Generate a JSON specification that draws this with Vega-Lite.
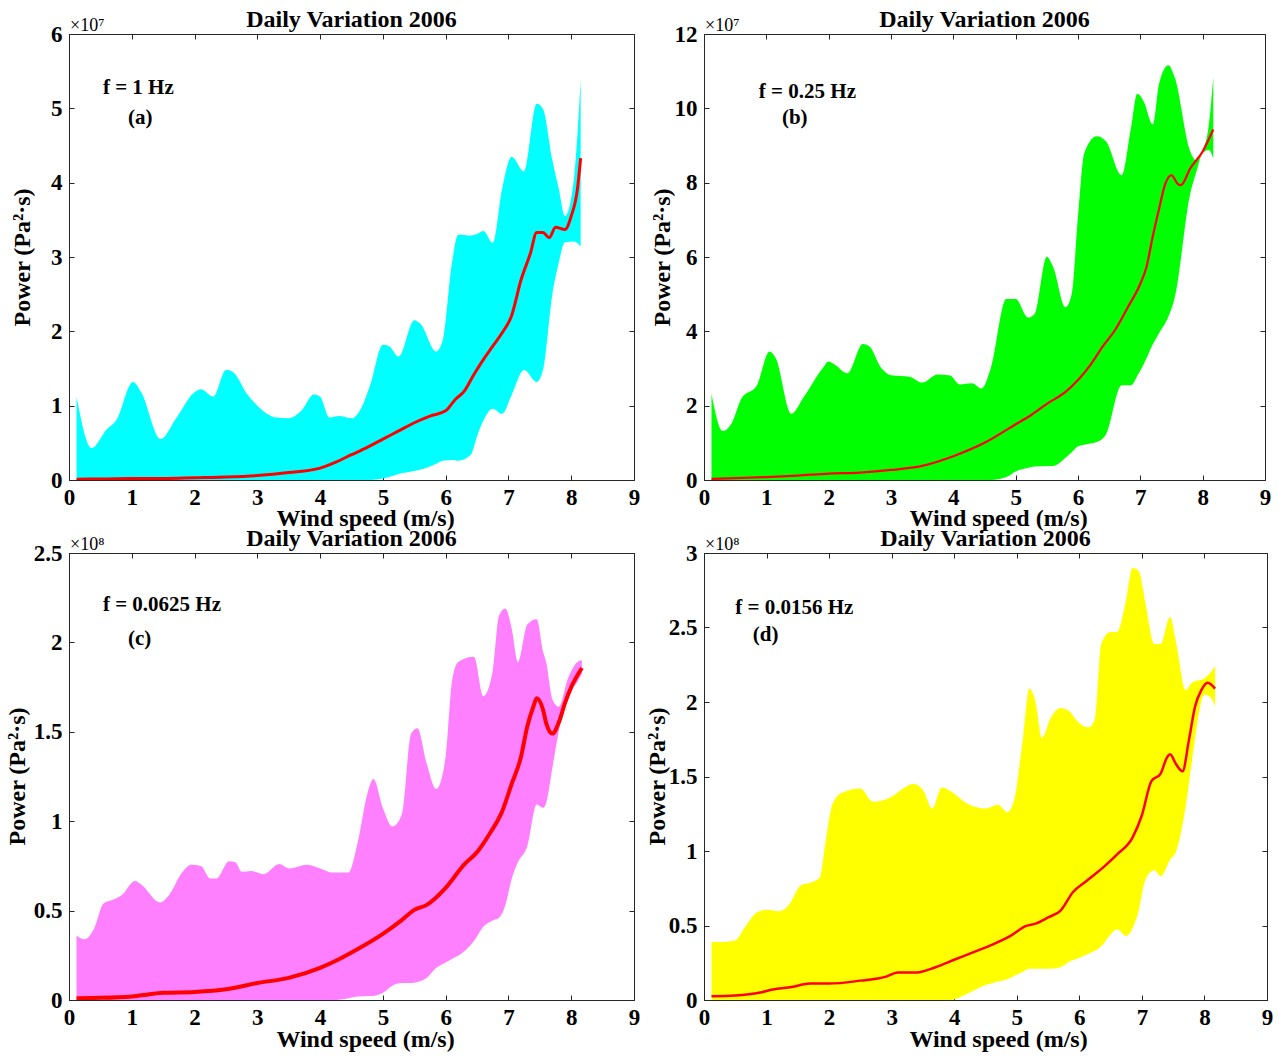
{
  "$schema": "https://vega.github.io/schema/vega-lite/v6.json",
  "background": "white",
  "padding": {"left": 4, "top": 7, "right": 10, "bottom": 5},
  "config": {
    "font": "Liberation Serif",
    "view": {"stroke": "#262626", "strokeWidth": 1},
    "axis": {
      "labelFont": "Liberation Serif", "labelFontWeight": "bold", "labelFontSize": 23, "labelColor": "black",
      "titleFont": "Liberation Serif", "titleFontWeight": "bold", "titleFontSize": 24, "titleColor": "black",
      "domainColor": "#262626", "tickColor": "#262626", "tickSize": -5, "grid": false, "labelFlush": false, "labelOverlap": false, "format": "~g"
    },
    "axisX": {"titleY": 45, "titleBaseline": "alphabetic", "titleX": 296, "labelPadding": 11},
    "axisY": {"titleY": 223, "titleBaseline": "middle", "titleAngle": -90, "labelPadding": 12},
    "title": {"font": "Liberation Serif", "fontWeight": "bold", "fontSize": 24, "color": "black", "offset": -15}
  },
  "bounds": "flush",
  "columns": 2,
  "spacing": {"row": 73, "column": 70},
  "datasets": {
    "a_band": [
      {"x":0.12,"lo":0,"hi":1.12},{"x":0.36,"lo":0,"hi":0.43},{"x":0.6,"lo":0,"hi":0.68},{"x":0.75,"lo":0,"hi":0.8},
      {"x":1.02,"lo":0,"hi":1.32},{"x":1.15,"lo":0,"hi":1.18},{"x":1.46,"lo":0,"hi":0.55},{"x":1.7,"lo":0,"hi":0.82},
      {"x":2.0,"lo":0,"hi":1.18},{"x":2.1,"lo":0,"hi":1.22},{"x":2.3,"lo":0,"hi":1.12},{"x":2.5,"lo":0,"hi":1.48},
      {"x":2.6,"lo":0,"hi":1.46},{"x":2.85,"lo":0,"hi":1.14},{"x":3.0,"lo":0,"hi":1.0},{"x":3.3,"lo":0,"hi":0.84},
      {"x":3.5,"lo":0,"hi":0.83},{"x":3.7,"lo":0,"hi":0.93},{"x":3.9,"lo":0,"hi":1.15},{"x":4.0,"lo":0,"hi":1.12},
      {"x":4.15,"lo":0,"hi":0.84},{"x":4.3,"lo":0,"hi":0.86},{"x":4.5,"lo":0,"hi":0.83},{"x":4.65,"lo":0,"hi":0.96},
      {"x":4.8,"lo":0,"hi":1.28},{"x":5.0,"lo":0.02,"hi":1.82},{"x":5.1,"lo":0.04,"hi":1.8},{"x":5.25,"lo":0.08,"hi":1.66},
      {"x":5.5,"lo":0.12,"hi":2.15},{"x":5.6,"lo":0.14,"hi":2.1},{"x":5.85,"lo":0.22,"hi":1.73},{"x":5.95,"lo":0.26,"hi":1.87},
      {"x":6.1,"lo":0.27,"hi":2.92},{"x":6.2,"lo":0.26,"hi":3.3},{"x":6.4,"lo":0.34,"hi":3.29},{"x":6.5,"lo":0.59,"hi":3.31},
      {"x":6.6,"lo":0.8,"hi":3.35},{"x":6.75,"lo":0.96,"hi":3.19},{"x":6.9,"lo":0.89,"hi":3.92},{"x":7.05,"lo":1.14,"hi":4.35},
      {"x":7.25,"lo":1.48,"hi":4.15},{"x":7.45,"lo":1.32,"hi":5.06},{"x":7.55,"lo":1.48,"hi":4.99},{"x":7.7,"lo":2.5,"hi":4.3},
      {"x":7.8,"lo":2.92,"hi":3.92},{"x":7.9,"lo":3.2,"hi":3.55},{"x":8.05,"lo":3.21,"hi":4.1},{"x":8.15,"lo":3.14,"hi":5.38}
    ],
    "a_mean": [
      {"x":0.12,"m":0.01},{"x":0.6,"m":0.015},{"x":1.0,"m":0.02},{"x":1.5,"m":0.02},{"x":2.0,"m":0.03},{"x":2.5,"m":0.04},
      {"x":3.0,"m":0.06},{"x":3.5,"m":0.1},{"x":4.0,"m":0.16},{"x":4.25,"m":0.24},{"x":4.5,"m":0.34},{"x":4.75,"m":0.44},
      {"x":5.0,"m":0.55},{"x":5.25,"m":0.66},{"x":5.5,"m":0.77},{"x":5.75,"m":0.86},{"x":6.0,"m":0.93},{"x":6.15,"m":1.08},
      {"x":6.3,"m":1.2},{"x":6.45,"m":1.42},{"x":6.6,"m":1.62},{"x":6.75,"m":1.8},{"x":6.9,"m":1.98},{"x":7.05,"m":2.21},
      {"x":7.2,"m":2.69},{"x":7.35,"m":3.05},{"x":7.45,"m":3.33},{"x":7.55,"m":3.33},{"x":7.65,"m":3.26},{"x":7.75,"m":3.4},
      {"x":7.9,"m":3.37},{"x":8.0,"m":3.55},{"x":8.1,"m":3.92},{"x":8.15,"m":4.33}
    ],
    "b_band": [
      {"x":0.12,"lo":0,"hi":2.32},{"x":0.3,"lo":0,"hi":1.32},{"x":0.45,"lo":0,"hi":1.55},{"x":0.6,"lo":0,"hi":2.19},
      {"x":0.85,"lo":0,"hi":2.55},{"x":1.05,"lo":0,"hi":3.46},{"x":1.15,"lo":0,"hi":3.28},{"x":1.4,"lo":0,"hi":1.78},
      {"x":1.6,"lo":0,"hi":2.23},{"x":1.9,"lo":0,"hi":3.0},{"x":2.0,"lo":0,"hi":3.19},{"x":2.1,"lo":0,"hi":3.1},
      {"x":2.3,"lo":0,"hi":2.87},{"x":2.55,"lo":0,"hi":3.66},{"x":2.65,"lo":0,"hi":3.6},{"x":2.85,"lo":0,"hi":3.0},
      {"x":3.0,"lo":0,"hi":2.82},{"x":3.3,"lo":0,"hi":2.78},{"x":3.5,"lo":0,"hi":2.62},{"x":3.75,"lo":0,"hi":2.84},
      {"x":3.95,"lo":0,"hi":2.81},{"x":4.1,"lo":0,"hi":2.57},{"x":4.3,"lo":0,"hi":2.6},{"x":4.45,"lo":0,"hi":2.46},
      {"x":4.6,"lo":0,"hi":3.0},{"x":4.85,"lo":0.08,"hi":4.87},{"x":5.0,"lo":0.23,"hi":4.87},{"x":5.2,"lo":0.33,"hi":4.37},
      {"x":5.3,"lo":0.36,"hi":4.46},{"x":5.5,"lo":0.38,"hi":6.01},{"x":5.6,"lo":0.38,"hi":5.74},{"x":5.8,"lo":0.6,"hi":4.65},
      {"x":5.9,"lo":0.75,"hi":5.01},{"x":6.0,"lo":0.91,"hi":7.1},{"x":6.1,"lo":0.95,"hi":8.79},{"x":6.3,"lo":1.02,"hi":9.25},
      {"x":6.45,"lo":1.23,"hi":9.11},{"x":6.7,"lo":2.55,"hi":8.2},{"x":6.85,"lo":2.55,"hi":9.48},{"x":6.95,"lo":2.8,"hi":10.39},
      {"x":7.05,"lo":3.1,"hi":10.2},{"x":7.2,"lo":3.65,"hi":9.57},{"x":7.3,"lo":3.95,"hi":10.66},{"x":7.45,"lo":4.4,"hi":11.16},
      {"x":7.55,"lo":4.9,"hi":10.84},{"x":7.8,"lo":7.7,"hi":8.84},{"x":7.9,"lo":8.3,"hi":8.6},{"x":8.0,"lo":8.8,"hi":8.85},
      {"x":8.1,"lo":8.88,"hi":9.57},{"x":8.17,"lo":8.66,"hi":10.84}
    ],
    "b_mean": [
      {"x":0.12,"m":0.03},{"x":0.5,"m":0.05},{"x":1.0,"m":0.08},{"x":1.5,"m":0.12},{"x":2.0,"m":0.17},{"x":2.5,"m":0.2},
      {"x":3.0,"m":0.27},{"x":3.5,"m":0.38},{"x":4.0,"m":0.64},{"x":4.5,"m":1.0},{"x":5.0,"m":1.5},{"x":5.25,"m":1.75},
      {"x":5.5,"m":2.05},{"x":5.8,"m":2.37},{"x":6.0,"m":2.69},{"x":6.2,"m":3.1},{"x":6.4,"m":3.6},{"x":6.6,"m":4.05},
      {"x":6.8,"m":4.65},{"x":7.0,"m":5.28},{"x":7.1,"m":5.74},{"x":7.2,"m":6.56},{"x":7.3,"m":7.29},{"x":7.4,"m":7.97},
      {"x":7.5,"m":8.2},{"x":7.6,"m":7.97},{"x":7.65,"m":7.93},{"x":7.8,"m":8.38},{"x":8.0,"m":8.84},{"x":8.17,"m":9.43}
    ],
    "c_band": [
      {"x":0.12,"lo":0,"hi":0.36},{"x":0.25,"lo":0,"hi":0.34},{"x":0.4,"lo":0,"hi":0.4},{"x":0.55,"lo":0,"hi":0.54},
      {"x":0.7,"lo":0,"hi":0.56},{"x":0.85,"lo":0,"hi":0.59},{"x":1.05,"lo":0,"hi":0.665},{"x":1.15,"lo":0,"hi":0.646},
      {"x":1.45,"lo":0,"hi":0.546},{"x":1.6,"lo":0,"hi":0.59},{"x":1.8,"lo":0,"hi":0.713},{"x":1.95,"lo":0,"hi":0.757},
      {"x":2.1,"lo":0,"hi":0.75},{"x":2.25,"lo":0,"hi":0.68},{"x":2.35,"lo":0,"hi":0.68},{"x":2.55,"lo":0,"hi":0.776},
      {"x":2.65,"lo":0,"hi":0.77},{"x":2.75,"lo":0,"hi":0.717},{"x":2.9,"lo":0,"hi":0.722},{"x":3.0,"lo":0,"hi":0.713},
      {"x":3.1,"lo":0,"hi":0.703},{"x":3.35,"lo":0,"hi":0.76},{"x":3.5,"lo":0,"hi":0.736},{"x":3.8,"lo":0,"hi":0.757},
      {"x":4.0,"lo":0,"hi":0.736},{"x":4.2,"lo":0,"hi":0.713},{"x":4.45,"lo":0.01,"hi":0.713},{"x":4.6,"lo":0.02,"hi":0.884},
      {"x":4.75,"lo":0.022,"hi":1.15},{"x":4.85,"lo":0.023,"hi":1.236},{"x":5.0,"lo":0.04,"hi":1.074},{"x":5.15,"lo":0.08,"hi":0.97},
      {"x":5.3,"lo":0.095,"hi":1.036},{"x":5.45,"lo":0.095,"hi":1.49},{"x":5.55,"lo":0.1,"hi":1.52},{"x":5.7,"lo":0.124,"hi":1.32},
      {"x":5.85,"lo":0.18,"hi":1.18},{"x":6.0,"lo":0.21,"hi":1.36},{"x":6.1,"lo":0.23,"hi":1.78},{"x":6.2,"lo":0.247,"hi":1.89},
      {"x":6.45,"lo":0.33,"hi":1.92},{"x":6.6,"lo":0.41,"hi":1.7},{"x":6.75,"lo":0.445,"hi":1.84},{"x":6.85,"lo":0.46,"hi":2.15},
      {"x":6.95,"lo":0.53,"hi":2.19},{"x":7.05,"lo":0.675,"hi":2.08},{"x":7.15,"lo":0.77,"hi":1.89},{"x":7.3,"lo":0.86,"hi":2.1},
      {"x":7.45,"lo":1.093,"hi":2.13},{"x":7.55,"lo":1.074,"hi":1.95},{"x":7.6,"lo":1.1,"hi":1.89},{"x":7.7,"lo":1.3,"hi":1.68},
      {"x":7.8,"lo":1.5,"hi":1.64},{"x":7.95,"lo":1.7,"hi":1.8},{"x":8.1,"lo":1.78,"hi":1.89},{"x":8.17,"lo":1.825,"hi":1.9}
    ],
    "c_mean": [
      {"x":0.12,"m":0.01},{"x":0.5,"m":0.012},{"x":1.0,"m":0.02},{"x":1.5,"m":0.04},{"x":2.0,"m":0.045},{"x":2.5,"m":0.06},
      {"x":3.0,"m":0.095},{"x":3.5,"m":0.124},{"x":4.0,"m":0.18},{"x":4.3,"m":0.228},{"x":4.6,"m":0.285},{"x":5.0,"m":0.37},
      {"x":5.3,"m":0.447},{"x":5.5,"m":0.504},{"x":5.7,"m":0.532},{"x":6.0,"m":0.627},{"x":6.3,"m":0.76},{"x":6.5,"m":0.827},
      {"x":6.7,"m":0.93},{"x":6.9,"m":1.055},{"x":7.05,"m":1.207},{"x":7.2,"m":1.36},{"x":7.3,"m":1.53},{"x":7.4,"m":1.644},
      {"x":7.45,"m":1.688},{"x":7.55,"m":1.625},{"x":7.6,"m":1.55},{"x":7.7,"m":1.49},{"x":7.8,"m":1.55},{"x":7.9,"m":1.66},
      {"x":8.0,"m":1.75},{"x":8.17,"m":1.857}
    ],
    "d_band": [
      {"x":0.12,"lo":0,"hi":0.39},{"x":0.3,"lo":0,"hi":0.39},{"x":0.5,"lo":0,"hi":0.4},{"x":0.65,"lo":0,"hi":0.486},
      {"x":0.85,"lo":0,"hi":0.589},{"x":1.0,"lo":0,"hi":0.605},{"x":1.2,"lo":0,"hi":0.595},{"x":1.35,"lo":0,"hi":0.634},
      {"x":1.55,"lo":0,"hi":0.77},{"x":1.7,"lo":0,"hi":0.787},{"x":1.85,"lo":0,"hi":0.82},{"x":1.95,"lo":0,"hi":1.08},
      {"x":2.05,"lo":0,"hi":1.31},{"x":2.2,"lo":0,"hi":1.39},{"x":2.5,"lo":0,"hi":1.42},{"x":2.7,"lo":0,"hi":1.33},
      {"x":3.0,"lo":0,"hi":1.364},{"x":3.15,"lo":0,"hi":1.41},{"x":3.35,"lo":0,"hi":1.45},{"x":3.5,"lo":0,"hi":1.41},
      {"x":3.65,"lo":0,"hi":1.285},{"x":3.8,"lo":0,"hi":1.426},{"x":3.95,"lo":0,"hi":1.4},{"x":4.2,"lo":0.04,"hi":1.32},
      {"x":4.5,"lo":0.1,"hi":1.285},{"x":4.7,"lo":0.125,"hi":1.31},{"x":4.85,"lo":0.14,"hi":1.26},{"x":4.95,"lo":0.16,"hi":1.33},
      {"x":5.1,"lo":0.19,"hi":1.76},{"x":5.2,"lo":0.21,"hi":2.09},{"x":5.3,"lo":0.21,"hi":2.0},{"x":5.4,"lo":0.21,"hi":1.76},
      {"x":5.55,"lo":0.21,"hi":1.9},{"x":5.7,"lo":0.22,"hi":1.96},{"x":5.85,"lo":0.26,"hi":1.935},{"x":5.95,"lo":0.275,"hi":1.88},
      {"x":6.15,"lo":0.31,"hi":1.83},{"x":6.25,"lo":0.33,"hi":1.89},{"x":6.35,"lo":0.36,"hi":2.39},{"x":6.5,"lo":0.44,"hi":2.47},
      {"x":6.6,"lo":0.475,"hi":2.47},{"x":6.75,"lo":0.43,"hi":2.69},{"x":6.85,"lo":0.48,"hi":2.9},{"x":6.95,"lo":0.6,"hi":2.88},
      {"x":7.05,"lo":0.8,"hi":2.68},{"x":7.2,"lo":0.87,"hi":2.39},{"x":7.3,"lo":0.83,"hi":2.39},{"x":7.45,"lo":0.94,"hi":2.57},
      {"x":7.55,"lo":1.0,"hi":2.39},{"x":7.7,"lo":1.3,"hi":2.08},{"x":7.8,"lo":1.6,"hi":2.13},{"x":8.0,"lo":2.05,"hi":2.16},
      {"x":8.1,"lo":2.03,"hi":2.2},{"x":8.17,"lo":1.97,"hi":2.24}
    ],
    "d_mean": [
      {"x":0.12,"m":0.025},{"x":0.5,"m":0.03},{"x":0.9,"m":0.05},{"x":1.1,"m":0.07},{"x":1.4,"m":0.087},{"x":1.7,"m":0.11},
      {"x":2.0,"m":0.11},{"x":2.5,"m":0.13},{"x":2.9,"m":0.155},{"x":3.1,"m":0.185},{"x":3.4,"m":0.185},{"x":3.7,"m":0.22},
      {"x":4.0,"m":0.27},{"x":4.3,"m":0.32},{"x":4.6,"m":0.37},{"x":4.9,"m":0.43},{"x":5.15,"m":0.497},{"x":5.3,"m":0.513},
      {"x":5.5,"m":0.554},{"x":5.7,"m":0.6},{"x":5.9,"m":0.725},{"x":6.1,"m":0.794},{"x":6.4,"m":0.897},{"x":6.6,"m":0.976},
      {"x":6.85,"m":1.09},{"x":7.0,"m":1.24},{"x":7.15,"m":1.467},{"x":7.3,"m":1.52},{"x":7.4,"m":1.627},{"x":7.45,"m":1.65},
      {"x":7.55,"m":1.58},{"x":7.65,"m":1.535},{"x":7.75,"m":1.74},{"x":7.85,"m":1.97},{"x":7.95,"m":2.08},{"x":8.05,"m":2.13},
      {"x":8.17,"m":2.09}
    ]
  },
  "concat": [
    {
      "width": 565, "height": 446,
      "title": "Daily Variation 2006",
      "resolve": {"axis": {"x": "independent", "y": "independent"}},
      "layer": [
        {"data": {"name": "a_band"}, "mark": {"type": "area", "color": "#00FFFF", "opacity": 1, "clip": true, "interpolate": "monotone"},
         "encoding": {
           "x": {"field": "x", "type": "quantitative", "scale": {"domain": [0, 9], "nice": false}, "axis": {"title": "Wind speed (m/s)", "values": [0,1,2,3,4,5,6,7,8,9]}},
           "y": {"field": "hi", "type": "quantitative", "scale": {"domain": [0, 6], "nice": false}, "axis": {"title": "Power (Pa²·s)", "values": [0,1,2,3,4,5,6], "titleX": -47}},
           "y2": {"field": "lo"}}},
        {"data": {"name": "a_mean"}, "mark": {"type": "line", "color": "#FF0000", "strokeWidth": 3, "clip": true, "interpolate": "monotone"},
         "encoding": {
           "x": {"field": "x", "type": "quantitative", "axis": {"orient": "top", "labels": false, "title": null, "domain": false, "values": [0,1,2,3,4,5,6,7,8,9]}},
           "y": {"field": "m", "type": "quantitative", "axis": {"orient": "right", "labels": false, "title": null, "domain": false, "values": [0,1,2,3,4,5,6]}}}},
        {"data": {"values": [{"x": 0.54, "y": 5.27, "label": "f = 1 Hz"}, {"x": 0.94, "y": 4.87, "label": "(a)"}]},
         "mark": {"type": "text", "align": "left", "baseline": "middle", "fontSize": 21, "fontWeight": "bold", "font": "Liberation Serif", "color": "black"},
         "encoding": {"x": {"field": "x", "type": "quantitative", "axis": null}, "y": {"field": "y", "type": "quantitative", "axis": null}, "text": {"field": "label"}}},
        {"data": {"values": [{"x": 0, "y": 6, "label": "×10⁷"}]},
         "mark": {"type": "text", "align": "left", "baseline": "alphabetic", "dx": 1, "dy": -3, "fontSize": 18, "font": "Liberation Serif", "color": "black"},
         "encoding": {"x": {"field": "x", "type": "quantitative", "axis": null}, "y": {"field": "y", "type": "quantitative", "axis": null}, "text": {"field": "label"}}}
      ]
    },
    {
      "width": 561, "height": 446,
      "title": "Daily Variation 2006",
      "resolve": {"axis": {"x": "independent", "y": "independent"}},
      "layer": [
        {"data": {"name": "b_band"}, "mark": {"type": "area", "color": "#00FF00", "opacity": 1, "clip": true, "interpolate": "monotone"},
         "encoding": {
           "x": {"field": "x", "type": "quantitative", "scale": {"domain": [0, 9], "nice": false}, "axis": {"title": "Wind speed (m/s)", "values": [0,1,2,3,4,5,6,7,8,9], "titleX": 294}},
           "y": {"field": "hi", "type": "quantitative", "scale": {"domain": [0, 12], "nice": false}, "axis": {"title": "Power (Pa²·s)", "values": [0,2,4,6,8,10,12], "titleX": -42}},
           "y2": {"field": "lo"}}},
        {"data": {"name": "b_mean"}, "mark": {"type": "line", "color": "#FF0000", "strokeWidth": 2.2, "clip": true, "interpolate": "monotone"},
         "encoding": {
           "x": {"field": "x", "type": "quantitative", "axis": {"orient": "top", "labels": false, "title": null, "domain": false, "values": [0,1,2,3,4,5,6,7,8,9]}},
           "y": {"field": "m", "type": "quantitative", "axis": {"orient": "right", "labels": false, "title": null, "domain": false, "values": [0,2,4,6,8,10,12]}}}},
        {"data": {"values": [{"x": 0.88, "y": 10.44, "label": "f = 0.25 Hz"}, {"x": 1.25, "y": 9.74, "label": "(b)"}]},
         "mark": {"type": "text", "align": "left", "baseline": "middle", "fontSize": 21, "fontWeight": "bold", "font": "Liberation Serif", "color": "black"},
         "encoding": {"x": {"field": "x", "type": "quantitative", "axis": null}, "y": {"field": "y", "type": "quantitative", "axis": null}, "text": {"field": "label"}}},
        {"data": {"values": [{"x": 0, "y": 12, "label": "×10⁷"}]},
         "mark": {"type": "text", "align": "left", "baseline": "alphabetic", "dx": 1, "dy": -3, "fontSize": 18, "font": "Liberation Serif", "color": "black"},
         "encoding": {"x": {"field": "x", "type": "quantitative", "axis": null}, "y": {"field": "y", "type": "quantitative", "axis": null}, "text": {"field": "label"}}}
      ]
    },
    {
      "width": 565, "height": 447,
      "title": "Daily Variation 2006",
      "resolve": {"axis": {"x": "independent", "y": "independent"}},
      "layer": [
        {"data": {"name": "c_band"}, "mark": {"type": "area", "color": "#FF80FF", "opacity": 1, "clip": true, "interpolate": "monotone"},
         "encoding": {
           "x": {"field": "x", "type": "quantitative", "scale": {"domain": [0, 9], "nice": false}, "axis": {"title": "Wind speed (m/s)", "values": [0,1,2,3,4,5,6,7,8,9], "titleY": 46}},
           "y": {"field": "hi", "type": "quantitative", "scale": {"domain": [0, 2.5], "nice": false}, "axis": {"title": "Power (Pa²·s)", "values": [0,0.5,1,1.5,2,2.5], "titleX": -52}},
           "y2": {"field": "lo"}}},
        {"data": {"name": "c_mean"}, "mark": {"type": "line", "color": "#FF0000", "strokeWidth": 4, "clip": true, "interpolate": "monotone"},
         "encoding": {
           "x": {"field": "x", "type": "quantitative", "axis": {"orient": "top", "labels": false, "title": null, "domain": false, "values": [0,1,2,3,4,5,6,7,8,9]}},
           "y": {"field": "m", "type": "quantitative", "axis": {"orient": "right", "labels": false, "title": null, "domain": false, "values": [0,0.5,1,1.5,2,2.5]}}}},
        {"data": {"values": [{"x": 0.54, "y": 2.21, "label": "f = 0.0625 Hz"}, {"x": 0.94, "y": 2.02, "label": "(c)"}]},
         "mark": {"type": "text", "align": "left", "baseline": "middle", "fontSize": 21, "fontWeight": "bold", "font": "Liberation Serif", "color": "black"},
         "encoding": {"x": {"field": "x", "type": "quantitative", "axis": null}, "y": {"field": "y", "type": "quantitative", "axis": null}, "text": {"field": "label"}}},
        {"data": {"values": [{"x": 0, "y": 2.5, "label": "×10⁸"}]},
         "mark": {"type": "text", "align": "left", "baseline": "alphabetic", "dx": 1, "dy": -3, "fontSize": 18, "font": "Liberation Serif", "color": "black"},
         "encoding": {"x": {"field": "x", "type": "quantitative", "axis": null}, "y": {"field": "y", "type": "quantitative", "axis": null}, "text": {"field": "label"}}}
      ]
    },
    {
      "width": 563, "height": 447,
      "title": "Daily Variation 2006",
      "resolve": {"axis": {"x": "independent", "y": "independent"}},
      "layer": [
        {"data": {"name": "d_band"}, "mark": {"type": "area", "color": "#FFFF00", "opacity": 1, "clip": true, "interpolate": "monotone"},
         "encoding": {
           "x": {"field": "x", "type": "quantitative", "scale": {"domain": [0, 9], "nice": false}, "axis": {"title": "Wind speed (m/s)", "values": [0,1,2,3,4,5,6,7,8,9], "titleX": 294, "titleY": 46}},
           "y": {"field": "hi", "type": "quantitative", "scale": {"domain": [0, 3], "nice": false}, "axis": {"title": "Power (Pa²·s)", "values": [0,0.5,1,1.5,2,2.5,3], "titleX": -47}},
           "y2": {"field": "lo"}}},
        {"data": {"name": "d_mean"}, "mark": {"type": "line", "color": "#FF0000", "strokeWidth": 2.5, "clip": true, "interpolate": "monotone"},
         "encoding": {
           "x": {"field": "x", "type": "quantitative", "axis": {"orient": "top", "labels": false, "title": null, "domain": false, "values": [0,1,2,3,4,5,6,7,8,9]}},
           "y": {"field": "m", "type": "quantitative", "axis": {"orient": "right", "labels": false, "title": null, "domain": false, "values": [0,0.5,1,1.5,2,2.5,3]}}}},
        {"data": {"values": [{"x": 0.5, "y": 2.63, "label": "f = 0.0156 Hz"}, {"x": 0.78, "y": 2.45, "label": "(d)"}]},
         "mark": {"type": "text", "align": "left", "baseline": "middle", "fontSize": 21, "fontWeight": "bold", "font": "Liberation Serif", "color": "black"},
         "encoding": {"x": {"field": "x", "type": "quantitative", "axis": null}, "y": {"field": "y", "type": "quantitative", "axis": null}, "text": {"field": "label"}}},
        {"data": {"values": [{"x": 0, "y": 3, "label": "×10⁸"}]},
         "mark": {"type": "text", "align": "left", "baseline": "alphabetic", "dx": 1, "dy": -3, "fontSize": 18, "font": "Liberation Serif", "color": "black"},
         "encoding": {"x": {"field": "x", "type": "quantitative", "axis": null}, "y": {"field": "y", "type": "quantitative", "axis": null}, "text": {"field": "label"}}}
      ]
    }
  ]
}
